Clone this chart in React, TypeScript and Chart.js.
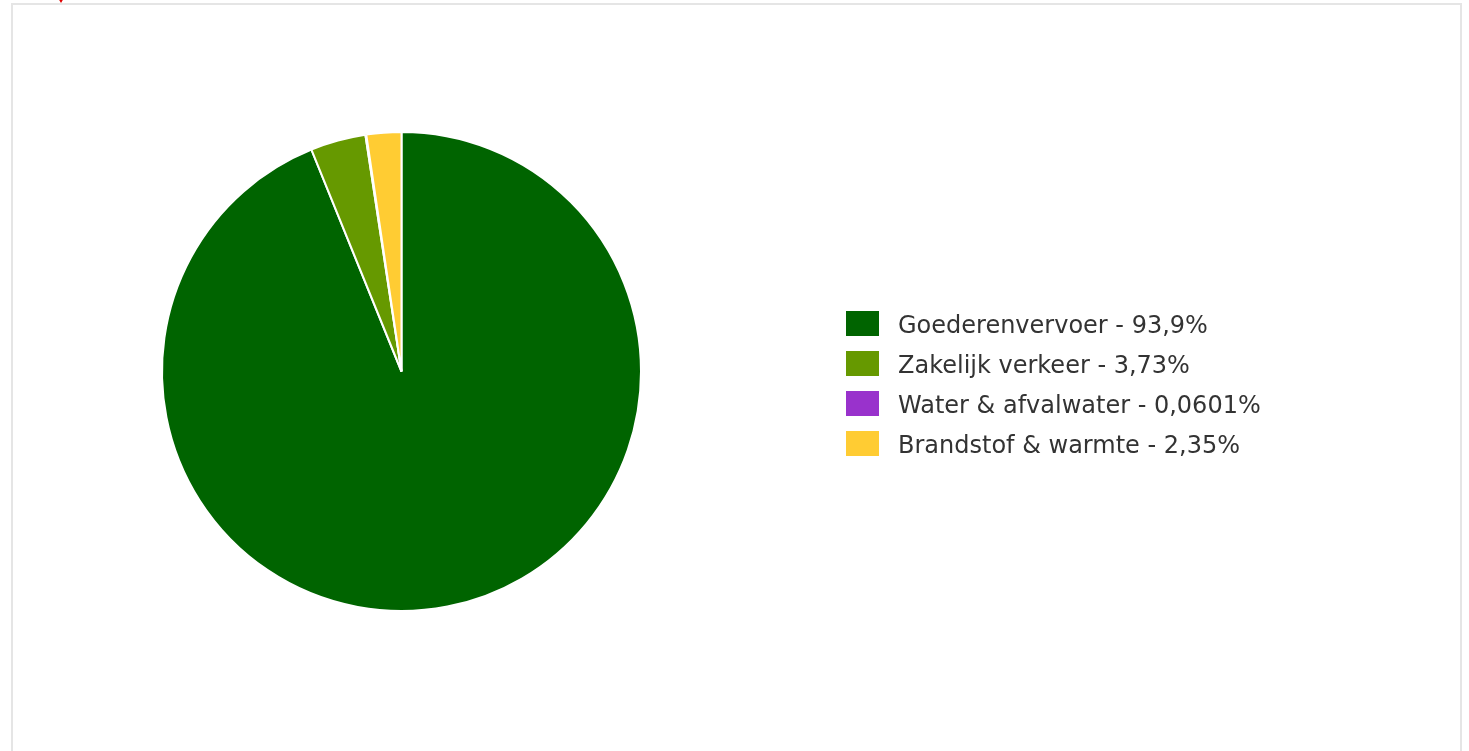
import React, { useEffect, useRef } from "react";
import { Chart, registerables } from "chart.js";

Chart.register(...registerables);

const categories = [
  "Goederenvervoer",
  "Zakelijk verkeer",
  "Water & afvalwater",
  "Brandstof & warmte",
];
const shareValues = [93.9, 3.73, 0.0601, 2.35];
const shareLabels = ["93,9%", "3,73%", "0,0601%", "2,35%"];
const sliceColors = ["#006400", "#669900", "#9932CC", "#FFCC33"];

const sideLegend = {
  id: "sideLegend",
  afterDraw(chart: any) {
    const ctx = chart.ctx as CanvasRenderingContext2D;
    const labels = chart.data.labels as string[];
    const ds = chart.data.datasets[0];
    const x0 = 833;
    const y0 = 306;
    ctx.save();
    ctx.font = '24px "DejaVu Sans"';
    ctx.textBaseline = "alphabetic";
    ctx.textAlign = "left";
    labels.forEach((lab, i) => {
      const y = y0 + i * 40;
      ctx.fillStyle = ds.backgroundColor[i];
      ctx.fillRect(x0, y, 33, 25);
      ctx.fillStyle = "#333333";
      ctx.fillText(lab + " - " + shareLabels[i], x0 + 52, y + 22);
    });
    ctx.restore();
  },
};

export default function App() {
  const ref = useRef<HTMLCanvasElement>(null);
  useEffect(() => {
    document.body.style.overflow = "hidden";
    const chart = new Chart(ref.current!, {
      type: "pie",
      data: {
        labels: categories,
        datasets: [
          {
            data: shareValues,
            backgroundColor: sliceColors,
            borderColor: "#ffffff",
            borderWidth: 2,
          },
        ],
      },
      options: {
        animation: false,
        responsive: false,
        devicePixelRatio: 1,
        layout: { padding: { left: 148, right: 818, top: 126, bottom: 127 } },
        plugins: {
          legend: { display: false },
          tooltip: { enabled: false },
        },
      },
      plugins: [sideLegend],
    });
    return () => chart.destroy();
  }, []);
  return (
    <>
      <div
        style={{
          position: "absolute",
          left: 58,
          top: -2,
          width: 0,
          height: 0,
          borderLeft: "3px solid transparent",
          borderRight: "3px solid transparent",
          borderTop: "5px solid #e00000",
        }}
      />
      <div
        style={{
          position: "absolute",
          left: 11,
          top: 3,
          width: 1447,
          height: 746,
          borderTop: "2px solid #e5e5e5",
          borderLeft: "2px solid #e5e5e5",
          borderRight: "2px solid #e5e5e5",
          background: "#fff",
          overflow: "hidden",
        }}
      >
        <canvas
          ref={ref}
          width={1447}
          height={734}
          style={{ display: "block", width: 1447, height: 734 }}
        />
      </div>
    </>
  );
}
